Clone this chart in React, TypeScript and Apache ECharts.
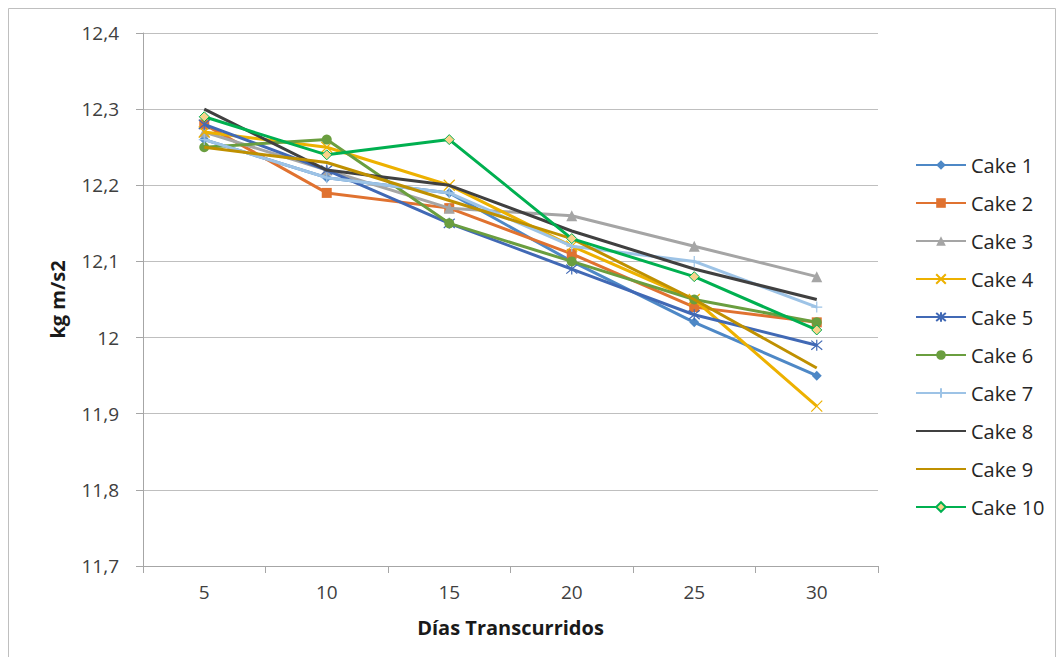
import React, { useEffect, useRef } from "react";
import * as echarts from "echarts";

const categories = ["5", "10", "15", "20", "25", "30"];
const yTicks = [11.7, 11.8, 11.9, 12.0, 12.1, 12.2, 12.3, 12.4];

const cake1 = [12.26, 12.21, 12.19, 12.1, 12.02, 11.95];
const cake2 = [12.28, 12.19, 12.17, 12.11, 12.04, 12.02];
const cake3 = [12.27, 12.22, 12.17, 12.16, 12.12, 12.08];
const cake4 = [12.27, 12.25, 12.2, 12.12, 12.05, 11.91];
const cake5 = [12.28, 12.22, 12.15, 12.09, 12.03, 11.99];
const cake6 = [12.25, 12.26, 12.15, 12.1, 12.05, 12.02];
const cake7 = [12.26, 12.21, 12.19, 12.12, 12.1, 12.04];
const cake8 = [12.3, 12.22, 12.2, 12.14, 12.09, 12.05];
const cake9 = [12.25, 12.23, 12.18, 12.13, 12.05, 11.96];
const cake10 = [12.29, 12.24, 12.26, 12.13, 12.08, 12.01];

const seriesNames = ["Cake 1", "Cake 2", "Cake 3", "Cake 4", "Cake 5", "Cake 6", "Cake 7", "Cake 8", "Cake 9", "Cake 10"];
const seriesData = [cake1, cake2, cake3, cake4, cake5, cake6, cake7, cake8, cake9, cake10];

const X_PATH = "path://M0,0L10,10M10,0L0,10";
const AST_PATH = "path://M0,0L10,10M10,0L0,10M5,-1L5,11";
const PLUS_PATH = "path://M5,0L5,10M0,5L10,5";

const styles = [
  { color: "#4E88C6", symbol: "diamond", size: 10 },
  { color: "#E07230", symbol: "rect", size: 10 },
  { color: "#A5A5A5", symbol: "triangle", size: 11 },
  { color: "#EDB100", symbol: X_PATH, size: 11, stroke: true },
  { color: "#4169B5", symbol: AST_PATH, size: 11, stroke: true },
  { color: "#6A9E3F", symbol: "circle", size: 10 },
  { color: "#9DC3E6", symbol: PLUS_PATH, size: 11, stroke: true },
  { color: "#404040", symbol: "none", size: 0 },
  { color: "#BF9000", symbol: "none", size: 0 },
  { color: "#00B050", symbol: "diamond", size: 10, fill: "#F9D38B" },
];

const FONT = "Open Sans";

export default function App() {
  const ref = useRef<HTMLDivElement>(null);
  useEffect(() => {
    if (!ref.current) return;
    const chart = echarts.init(ref.current, undefined, { renderer: "svg" });
    const series = seriesNames.map((name, i) => {
      const s: any = styles[i];
      const itemStyle: any = s.stroke
        ? { color: "rgba(0,0,0,0)", borderColor: s.color, borderWidth: 1.2 }
        : s.fill
        ? { color: s.fill, borderColor: s.color, borderWidth: 1 }
        : { color: s.color };
      return {
        name,
        type: "line",
        data: seriesData[i],
        symbol: s.symbol,
        symbolSize: s.size,
        showSymbol: s.symbol !== "none",
        lineStyle: { color: s.color, width: 3 },
        itemStyle: { ...itemStyle },
        color: s.color,
        z: 2 + i,
      };
    });
    const legendData = seriesNames.map((name, i) =>
      styles[i].symbol === "none"
        ? { name, itemStyle: { opacity: 0 } }
        : { name }
    );
    chart.setOption({
      animation: false,
      backgroundColor: "#ffffff",
      textStyle: { fontFamily: FONT },
      graphic: [
        {
          type: "rect",
          shape: { x: 8.5, y: 8.5, width: 1047, height: 700 },
          style: { fill: "none", stroke: "#BFBFBF", lineWidth: 1 },
          silent: true,
        },
      ],
      grid: { left: 143, right: 186, top: 33, bottom: 91, containLabel: false },
      legend: {
        orient: "vertical",
        left: 910,
        top: 150,
        itemWidth: 50,
        itemHeight: 12,
        itemGap: 18,
        textStyle: { fontFamily: FONT, fontSize: 20, lineHeight: 20, color: "#262626" },
        data: legendData,
      },
      xAxis: {
        type: "category",
        data: categories,
        boundaryGap: true,
        name: "Días Transcurridos",
        nameLocation: "middle",
        nameGap: 51,
        nameTextStyle: { fontFamily: FONT, fontSize: 20, fontWeight: "bold", color: "#1a1a1a" },
        axisLine: { show: true, lineStyle: { color: "#A6A6A6", width: 1 } },
        axisTick: { show: true, length: 7, lineStyle: { color: "#A6A6A6" } },
        axisLabel: { fontFamily: FONT, fontSize: 19, color: "#404040", margin: 16 },
        splitLine: { show: false },
      },
      yAxis: {
        type: "value",
        min: 11.7,
        max: 12.4,
        interval: 0.1,
        name: "kg m/s2",
        nameLocation: "middle",
        nameGap: 76,
        nameTextStyle: { fontFamily: FONT, fontSize: 20, fontWeight: "bold", color: "#1a1a1a" },
        axisLine: { show: true, lineStyle: { color: "#A6A6A6", width: 1 } },
        axisTick: { show: true, length: 7, lineStyle: { color: "#A6A6A6" } },
        axisLabel: {
          fontFamily: FONT,
          fontSize: 19,
          color: "#404040",
          margin: 24,
          formatter: (v: number) => {
            const t = yTicks.find((k) => Math.abs(k - v) < 1e-6);
            const val = t !== undefined ? t : v;
            return String(Math.round(val * 10) / 10).replace(".", ",");
          },
        },
        splitLine: { show: true, lineStyle: { color: "#BFBFBF", width: 1 } },
      },
      series,
    });
    return () => chart.dispose();
  }, []);
  return (
    <div
      ref={ref}
      style={{ position: "fixed", left: 0, top: 0, width: 1064, height: 657 }}
    />
  );
}
